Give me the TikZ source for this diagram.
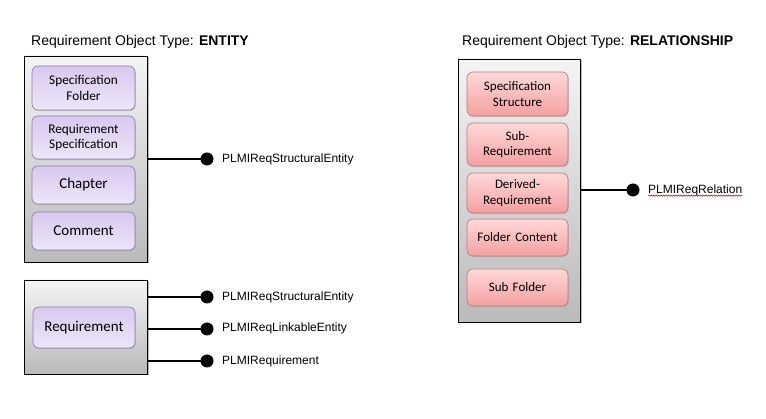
\documentclass[tikz,border=0pt]{standalone}
\usepackage{fontspec}
\setmainfont{Liberation Sans}
\newfontfamily\boxfont{Carlito}
\usetikzlibrary{positioning, shadows, decorations.pathmorphing}

\definecolor{lilacTop}{HTML}{D8C8EF}
\definecolor{lilacBot}{HTML}{EDE6F8}
\definecolor{lilacLine}{HTML}{8C7BAF}
\definecolor{roseTop}{HTML}{FFD8D8}
\definecolor{roseBot}{HTML}{F4A0A0}
\definecolor{roseLine}{HTML}{C07676}
\definecolor{panelTop}{HTML}{F4F4F4}
\definecolor{panelBot}{HTML}{BABABA}

\begin{document}
\begin{tikzpicture}[
    x=1pt, y=-1pt,
    panel/.style={rectangle, draw=black, line width=0.8pt, shading=axis, top color=panelTop, bottom color=panelBot,
        drop shadow={shadow xshift=1.5pt, shadow yshift=-1.5pt, fill=black!45, opacity=0.6}},
    entbox/.style={rectangle, rounded corners=6pt, draw=lilacLine, line width=0.6pt, shading=axis,
        top color=lilacTop, bottom color=lilacBot, align=center, text width=96pt, inner sep=0pt,
        minimum width=103pt, font=\boxfont\fontsize{13.3}{15.5}\selectfont,
        drop shadow={shadow xshift=0.8pt, shadow yshift=-1.2pt, fill=black!40, opacity=0.4}},
    relbox/.style={entbox, draw=roseLine, top color=roseTop, bottom color=roseBot, minimum width=101pt,
        font=\boxfont\fontsize{13}{15.5}\selectfont},
    bigtext/.style={font=\boxfont\fontsize{15}{17}\selectfont},
    port/.style={circle, fill=black, inner sep=0pt, minimum size=13pt},
    portlabel/.style={anchor=west, inner sep=0pt, font=\fontsize{12}{14}\selectfont},
    title/.style={anchor=west, inner sep=0pt, font=\fontsize{14}{16}\selectfont},
    wire/.style={line width=2.8pt}
]
    \useasboundingbox (0,0) rectangle (766,419);

    % Titles
    \node[title] (enttitle) at (31,42) {Requirement Object Type: \textbf{ENTITY}};
    \node[title] (reltitle) at (462,42) {Requirement Object Type: \textbf{RELATIONSHIP}};

    % Containers
    \node[panel, minimum width=123pt, minimum height=206pt] (entpanel) at (85.5,159) {};
    \node[panel, minimum width=123pt, minimum height=94pt] (reqpanel) at (85.5,327) {};
    \node[panel, minimum width=122pt, minimum height=263pt] (relpanel) at (519,190.5) {};

    % Entity boxes
    \node[entbox, minimum height=44pt] (specfolder) at (83.5,88) {Specification\\Folder};
    \node[entbox, minimum height=43pt] (reqspec) at (83.5,137.5) {Requirement\\Specification};
    \node[entbox, bigtext, minimum height=38pt] (chapter) at (83.5,185) {Chapter};
    \node[entbox, bigtext, minimum height=38pt] (comment) at (83.5,231) {Comment};
    \node[entbox, bigtext, minimum width=102pt, minimum height=41pt] (requirement) at (84,327.5) {Requirement};

    % Relationship boxes
    \node[relbox, minimum height=44pt] (specstruct) at (517.5,94) {Specification\\Structure};
    \node[relbox, minimum height=43pt] (subreq) at (517.5,144.5) {Sub-\\Requirement};
    \node[relbox, minimum height=40pt] (derivreq) at (517.5,193) {Derived-\\Requirement};
    \node[relbox, minimum height=37pt] (foldcont) at (517.5,237.5) {Folder Content};
    \node[relbox, minimum height=37pt] (subfolder) at (517.5,287.5) {Sub Folder};

    % Ports
    \node[port] (entport) at (207,159) {};
    \node[port] (reqport1) at (207,297) {};
    \node[port] (reqport2) at (207,329) {};
    \node[port] (reqport3) at (207,361) {};
    \node[port] (relport) at (633,190) {};

    \node[portlabel] (entlabel) at (222,159) {PLMIReqStructuralEntity};
    \node[portlabel] (reqlabel1) at (222,297) {PLMIReqStructuralEntity};
    \node[portlabel] (reqlabel2) at (222,328) {PLMIReqLinkableEntity};
    \node[portlabel] (reqlabel3) at (222,361) {PLMIRequirement};
    \node[portlabel] (rellabel) at (648,190) {PLMIReqRelation};

    % Wires
    \draw[wire] (entpanel.east) -- (entport.center);
    \draw[wire] (reqport1.center -| reqpanel.east) -- (reqport1.center);
    \draw[wire] (reqport2.center -| reqpanel.east) -- (reqport2.center);
    \draw[wire] (reqport3.center -| reqpanel.east) -- (reqport3.center);
    \draw[wire] (relpanel.east |- relport.center) -- (relport.center);

    % Spell-check mark
    \draw[red!80!black, line width=0.5pt, decorate, decoration={snake, amplitude=0.7pt, segment length=2.5pt}]
        ([yshift=-2.5pt]rellabel.base west) -- ([yshift=-2.5pt]rellabel.base east);
\end{tikzpicture}
\end{document}
